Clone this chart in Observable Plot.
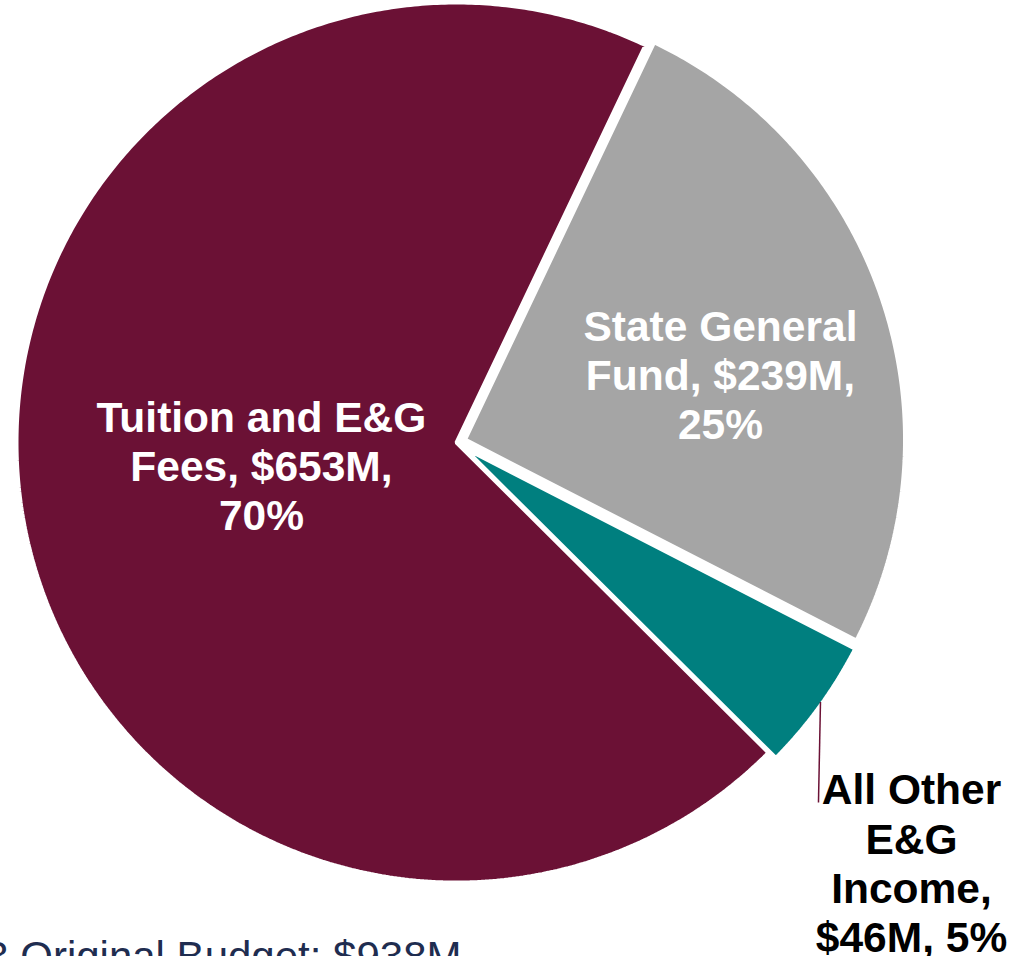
<!DOCTYPE html>
<html>
<head>
<meta charset="utf-8">
<script src="https://cdn.jsdelivr.net/npm/d3@7"></script>
<script src="https://cdn.jsdelivr.net/npm/@observablehq/plot@0.6"></script>
<style>
  html, body { margin: 0; padding: 0; background: #fff; overflow: hidden; }
  #chart svg { display: block; }
</style>
</head>
<body>
<div id="chart"></div>
<script>
// ---- data ----
const categories = ["State General Fund", "All Other E&G Income", "Tuition and E&G Fees"];
const values = [239, 46, 653];
const percents = [25, 5, 70];
const labels = [
  "State General\nFund, $239M,\n25%",
  "All Other\nE&G\nIncome,\n$46M, 5%",
  "Tuition and E&G\nFees, $653M,\n70%"
];
const colors = ["#A5A5A5", "#007F7F", "#6B1135"];
const caption = "FY2023 Original Budget: $938M";

// ---- layout ----
const W = 1013, H = 956;
const cx = 456, cy = 442, R = 440;
const explode = [9, 9, 0];
const deg = Math.PI / 180;
const start = 25.45 * deg;
const pie = d3.pie().sort(null).startAngle(start).endAngle(start + 2 * Math.PI)(values);

const slices = pie.map((p, i) => {
  const mid = (p.startAngle + p.endAngle) / 2;
  const ox = cx + explode[i] * Math.sin(mid), oy = cy - explode[i] * Math.cos(mid);
  const pts = [{x: ox, y: oy}];
  const n = Math.max(8, Math.ceil((p.endAngle - p.startAngle) / (0.5 * deg)));
  for (let k = 0; k <= n; k++) {
    const a = p.startAngle + (p.endAngle - p.startAngle) * k / n;
    pts.push({x: ox + R * Math.sin(a), y: oy - R * Math.cos(a)});
  }
  return {name: categories[i], color: colors[i], pts, mid, ox, oy, p};
});

// label anchors (polar from slice center) + fine offsets
const labelR = [0.62, 1.0, 0.45];
const labelD = [[-3, 22], [0, 0], [0, -11]];
const labelData = slices.map((s, i) => {
  const x = s.ox + labelR[i] * R * Math.sin(s.mid) + labelD[i][0];
  const y = s.oy - labelR[i] * R * Math.cos(s.mid) + labelD[i][1];
  return {x, y, text: labels[i], fill: i === 1 ? "#000" : "#fff"};
});
// outside label for the small slice, with a leader line
let leader;
{
  const s = slices[1];
  const a = s.p.startAngle + (s.p.endAngle - s.p.startAngle) * 0.47;
  const ex = s.ox + (R - 2) * Math.sin(a), ey = s.oy - (R - 2) * Math.cos(a);
  labelData[1].x = 911; labelData[1].y = 862;
  leader = [{x1: ex, y1: ey, x2: ex - 2, y2: 802}];
}

const font = "Liberation Sans, Arial, sans-serif";
const marks = [];
slices.forEach(s => {
  marks.push(Plot.line(s.pts, {x: "x", y: "y", fill: s.color, stroke: "#fff", strokeWidth: 4, curve: "linear-closed", strokeLinejoin: "miter"}));
});
marks.push(Plot.link(leader, {x1: "x1", y1: "y1", x2: "x2", y2: "y2", stroke: "#6B1135", strokeWidth: 1.5}));
marks.push(Plot.text(labelData, {
  x: "x", y: "y", text: "text", fill: "fill",
  fontSize: 42.5, fontWeight: "bold", lineHeight: 1.16, lineAnchor: "middle", textAnchor: "middle",
  fontFamily: font
}));
marks.push(Plot.text([caption], {
  x: () => 461, y: () => 970, text: d => d, textAnchor: "end", lineAnchor: "bottom",
  fontSize: 42, fill: "#1F2D50", fontFamily: font
}));

const chart = Plot.plot({
  width: W, height: H,
  margin: 0,
  x: {domain: [0, W], range: [0, W], axis: null},
  y: {domain: [0, H], range: [0, H], axis: null},
  style: {overflow: "visible", background: "#fff"},
  marks
});
document.getElementById("chart").append(chart);
</script>
</body>
</html>
